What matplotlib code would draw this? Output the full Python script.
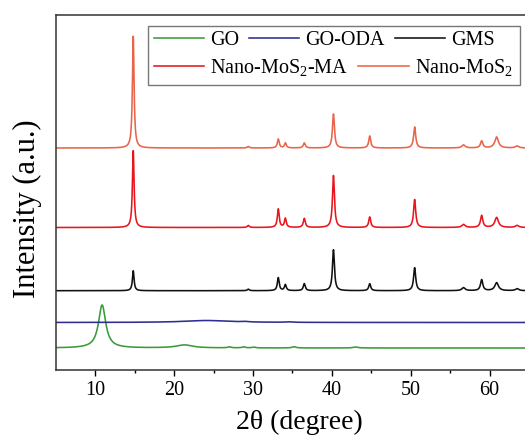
import matplotlib
matplotlib.use('Agg')
import matplotlib.pyplot as plt
import numpy as np
from matplotlib.patches import Rectangle

plt.rcParams['font.family'] = ['Liberation Serif', 'DejaVu Serif']
plt.rcParams['mathtext.fontset'] = 'custom'
plt.rcParams['mathtext.rm'] = 'Liberation Serif'

# peak list (2theta, height in a.u.)
mos2_pos = [14.8, 29.4, 33.2, 34.1, 36.5, 40.2, 44.8, 50.5, 56.7, 59.0, 60.9, 63.5]
mos2_fwhm = [0.25, 0.3, 0.28, 0.28, 0.3, 0.3, 0.3, 0.32, 0.5, 0.35, 0.55, 0.5]
nano_mos2_h = [112, 1.5, 9, 5, 5, 34, 12, 21, 3, 7, 11, 2]
nano_mos2_ma_h = [77, 2, 18.5, 9, 9, 52, 10.5, 28, 3, 12, 10, 2]
gms_h = [20, 1.5, 13, 6, 7, 41, 7, 23, 3, 11, 8, 2]

go_pos = [10.85, 21.3, 27.0, 28.8, 30.1, 35.2, 43.0]
go_h = [43, 3, 1, 1, 0.8, 1.2, 1]
go_fwhm = [1.1, 2.5, 0.5, 0.5, 0.5, 0.6, 0.7]

go_oda_pos = [24.1, 29.0, 34.5]
go_oda_h = [2, 0.5, 0.5]
go_oda_fwhm = [7, 1, 1]

# vertical offsets of the stacked patterns
offsets = {'GO': 22, 'GO-ODA': 47.5, 'GMS': 79.3,
           'Nano-MoS$_\\mathregular{2}$-MA': 142.5, 'Nano-MoS$_\\mathregular{2}$': 222}
colors = {'GO': '#3a9b3a', 'GO-ODA': '#2e2e92', 'GMS': '#111111',
          'Nano-MoS$_\\mathregular{2}$-MA': '#e8161c', 'Nano-MoS$_\\mathregular{2}$': '#e8654a'}

x = np.linspace(5, 64.5, 4000)


def pattern(pos, h, w):
    y = np.zeros_like(x)
    for p, a, g in zip(pos, h, w):
        y += a / (1 + ((x - p) / (g / 2)) ** 2)
    return y


curves = {
    'GO': pattern(go_pos, go_h, go_fwhm),
    'GO-ODA': pattern(go_oda_pos, go_oda_h, go_oda_fwhm),
    'GMS': pattern(mos2_pos, gms_h, mos2_fwhm),
    'Nano-MoS$_\\mathregular{2}$-MA': pattern(mos2_pos, nano_mos2_ma_h, mos2_fwhm),
    'Nano-MoS$_\\mathregular{2}$': pattern(mos2_pos, nano_mos2_h, mos2_fwhm),
}

fig = plt.figure(figsize=(5.25, 4.37), dpi=100)
ax = fig.add_axes([56 / 525, 67 / 437, 1 - 56 / 525, 355 / 437])

lines = {}
for name, y in curves.items():
    lines[name], = ax.plot(x, y + offsets[name], color=colors[name], lw=1.15)

ax.set_xlim(5, 64.5)
ax.set_ylim(0, 355)
ax.set_xticks([10, 20, 30, 40, 50, 60])
ax.set_xticks([15, 25, 35, 45, 55], minor=True)
ax.set_yticks([])
ax.tick_params(axis='x', which='major', direction='out', length=4, width=1, labelsize=14.5, pad=4)
ax.tick_params(axis='x', which='minor', direction='out', length=2.5, width=1)
ax.spines['right'].set_visible(False)
for s in ['left', 'bottom', 'top']:
    ax.spines[s].set_color('#333333')
    ax.spines[s].set_linewidth(1.1)

ax.set_xlabel('2θ (degree)', fontsize=20)
ax.xaxis.set_label_coords(0.518, -0.112)
ax.set_ylabel('Intensity (a.u.)', fontsize=22)
ax.yaxis.set_label_coords(-0.03, 0.454)

# legend: two rows of different column layout inside one frame
row1 = ['GO', 'GO-ODA', 'GMS']
row2 = ['Nano-MoS$_\\mathregular{2}$-MA', 'Nano-MoS$_\\mathregular{2}$']
kw = dict(frameon=False, fontsize=14.5, handlelength=2.5, handletextpad=0.3,
          columnspacing=0.5, borderpad=0, borderaxespad=0, loc='center left')
leg1 = ax.legend([lines[n] for n in row1], row1, ncol=3,
                 bbox_to_anchor=(0.208, 0.927), **kw)
ax.add_artist(leg1)
ax.legend([lines[n] for n in row2], row2, ncol=2,
          bbox_to_anchor=(0.208, 0.851), **kw)
ax.add_patch(Rectangle((0.196, 0.803), 0.793, 0.166, transform=ax.transAxes,
                       fill=False, edgecolor='#777777', lw=1.0, zorder=5))

fig.savefig('out.png', dpi=100)
